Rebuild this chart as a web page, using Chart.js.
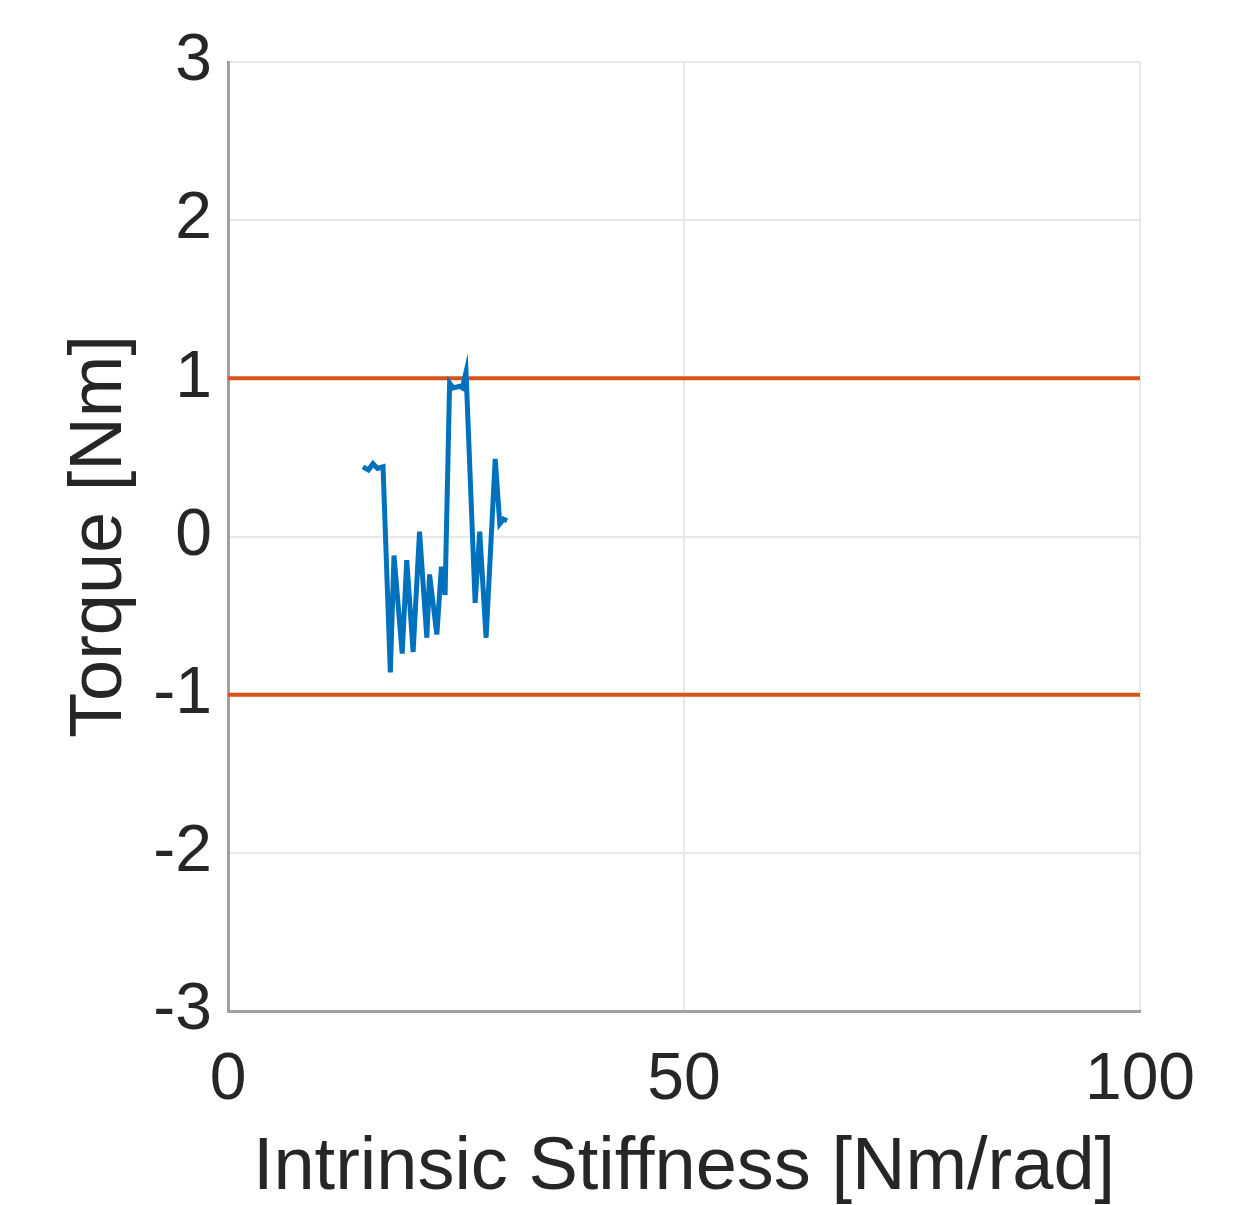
<html>
  <head>
    <script src="https://cdn.jsdelivr.net/npm/chart.js@4.4.0/dist/chart.umd.min.js"></script>
    <style>
      body { margin: 0; background: #fff; }
    </style>
  </head>
  <body>
    <canvas id="myChart" width="1259" height="1205"></canvas>
  </body>
  <script>
    // stiffness (x) and torque (y)
    const stiffness = [14.8, 15.4, 15.9, 16.4, 17.0, 17.8, 18.2, 19.1, 19.6, 20.3, 21.0, 21.8, 22.1, 22.9, 23.4, 23.8, 24.3, 24.7, 25.4, 25.7, 26.1, 27.1, 27.6, 28.3, 29.3, 29.8, 30.2, 30.6];
    const torque    = [0.44, 0.42, 0.46, 0.43, 0.44, -0.86, -0.12, -0.74, -0.15, -0.73, 0.03, -0.64, -0.24, -0.62, -0.19, -0.37, 0.97, 0.94, 0.95, 0.94, 1.04, -0.42, 0.03, -0.64, 0.49, 0.08, 0.11, 0.10];
    const limitX = [0, 100];
    const upperLimit = [1, 1];
    const lowerLimit = [-1, -1];
    const xTicks = [0, 50, 100];
    const yTicks = [-3, -2, -1, 0, 1, 2, 3];

    const toPoints = (xs, ys) => xs.map((x, i) => ({ x: x, y: ys[i] }));

    var ctx = document.getElementById('myChart').getContext('2d');
    var myChart = new Chart(ctx, {
      type: 'line',
      data: {
        datasets: [
          {
            data: toPoints(stiffness, torque),
            borderColor: '#0072BD',
            borderWidth: 5,
            pointRadius: 0,
            tension: 0
          },
          {
            data: toPoints(limitX, upperLimit),
            borderColor: '#D95319',
            borderWidth: 4,
            pointRadius: 0
          },
          {
            data: toPoints(limitX, lowerLimit),
            borderColor: '#D95319',
            borderWidth: 4,
            pointRadius: 0
          }
        ]
      },
      options: {
        responsive: false,
        animation: false,
        layout: { padding: { top: 62, right: 119, left: 0, bottom: 0 } },
        plugins: { legend: { display: false }, tooltip: { enabled: false } },
        scales: {
          x: {
            type: 'linear',
            min: 0,
            max: 100,
            afterBuildTicks: axis => { axis.ticks = xTicks.map(v => ({ value: v })); },
            afterFit: axis => { axis.height = 194; },
            grid: { color: '#e8e8e8', lineWidth: 2, drawTicks: false },
            border: { color: '#a0a0a0', width: 3 },
            ticks: {
              padding: 30,
              color: '#262626',
              font: { family: 'Liberation Sans', size: 66 }
            },
            title: {
              display: true,
              text: 'Intrinsic Stiffness [Nm/rad]',
              color: '#262626',
              font: { family: 'Liberation Sans', size: 74 },
              padding: { top: 0, bottom: -8 }
            }
          },
          y: {
            type: 'linear',
            min: -3,
            max: 3,
            afterBuildTicks: axis => { axis.ticks = yTicks.map(v => ({ value: v })); },
            afterFit: axis => { axis.width = 228; },
            grid: { color: '#e8e8e8', lineWidth: 2, drawTicks: false },
            border: { color: '#a0a0a0', width: 3 },
            ticks: {
              padding: 16,
              color: '#262626',
              font: { family: 'Liberation Sans', size: 66 }
            },
            title: {
              display: true,
              text: 'Torque [Nm]',
              color: '#262626',
              font: { family: 'Liberation Sans', size: 74 },
              padding: { top: 56, bottom: 0 }
            }
          }
        }
      }
    });
  </script>
</html>
